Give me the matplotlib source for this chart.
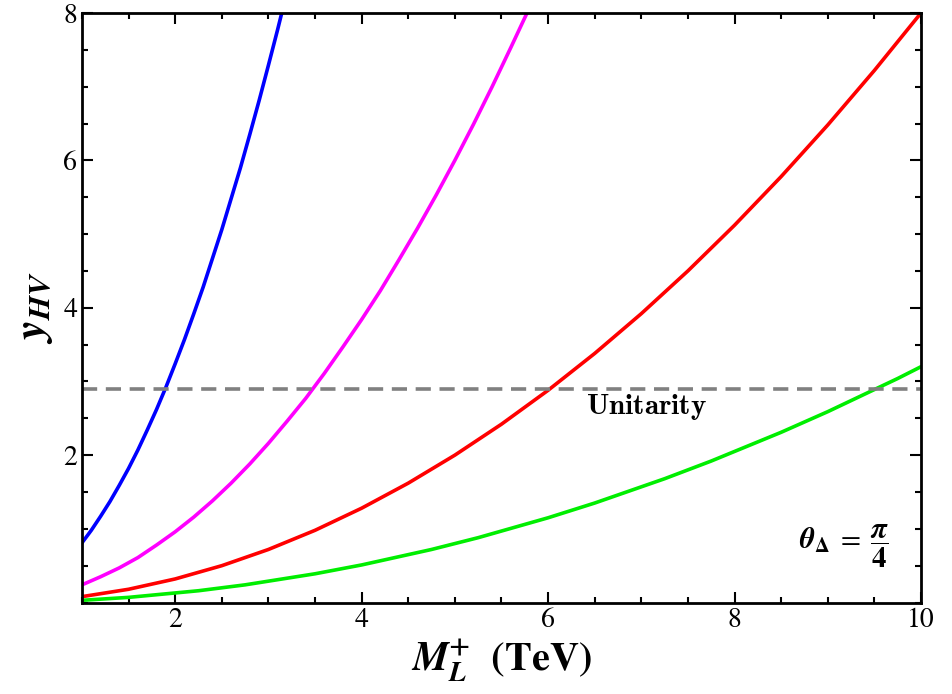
"""Yukawa y_HV vs charged lepton mass, unitarity bound."""

import matplotlib

matplotlib.use("Agg")

import matplotlib.pyplot as plt
from matplotlib.ticker import MultipleLocator

# values
blue_x = [1.0, 1.1, 1.2, 1.3, 1.4, 1.5, 1.6, 1.7, 1.8, 1.9, 2.0, 2.1, 2.2,
          2.3, 2.4, 2.5, 2.6, 2.7, 2.8, 2.9, 3.0, 3.1, 3.2]
blue_y = [0.81, 0.98, 1.17, 1.37, 1.59, 1.82, 2.07, 2.34, 2.62, 2.92, 3.24,
          3.57, 3.92, 4.28, 4.67, 5.06, 5.48, 5.90, 6.35, 6.81, 7.29, 7.78, 8.29]

magenta_x = [1.0, 1.2, 1.4, 1.6, 1.8, 2.0, 2.2, 2.4, 2.6, 2.8, 3.0, 3.2, 3.4,
             3.6, 3.8, 4.0, 4.2, 4.4, 4.6, 4.8, 5.0, 5.2, 5.4, 5.6, 5.8, 6.0]
magenta_y = [0.24, 0.35, 0.47, 0.61, 0.78, 0.96, 1.16, 1.38, 1.62, 1.88, 2.16,
             2.46, 2.77, 3.11, 3.47, 3.84, 4.23, 4.65, 5.08, 5.53, 6.00, 6.49,
             7.00, 7.53, 8.07, 8.64]

red_x = [1.0, 1.25, 1.5, 1.75, 2.0, 2.25, 2.5, 2.75, 3.0, 3.25, 3.5, 3.75,
         4.0, 4.25, 4.5, 4.75, 5.0, 5.25, 5.5, 5.75, 6.0, 6.25, 6.5, 6.75,
         7.0, 7.25, 7.5, 7.75, 8.0, 8.25, 8.5, 8.75, 9.0, 9.25, 9.5, 9.75, 10.0]
red_y = [0.08, 0.13, 0.18, 0.25, 0.32, 0.41, 0.50, 0.61, 0.72, 0.85, 0.98,
         1.13, 1.28, 1.45, 1.62, 1.81, 2.00, 2.21, 2.42, 2.65, 2.88, 3.13,
         3.38, 3.65, 3.92, 4.21, 4.50, 4.81, 5.12, 5.45, 5.78, 6.13, 6.48,
         6.85, 7.22, 7.61, 8.00]

green_x = red_x
green_y = [0.03, 0.05, 0.07, 0.10, 0.13, 0.16, 0.20, 0.24, 0.29, 0.34, 0.39,
           0.45, 0.51, 0.58, 0.65, 0.72, 0.80, 0.88, 0.97, 1.06, 1.15, 1.25,
           1.35, 1.46, 1.57, 1.68, 1.80, 1.92, 2.05, 2.18, 2.31, 2.45, 2.59,
           2.74, 2.89, 3.04, 3.20]

unitarity_y = 2.9

plt.rcParams["mathtext.fontset"] = "stix"
plt.rcParams["font.family"] = ["STIXGeneral", "DejaVu Serif"]

fig = plt.figure(figsize=(9.53, 6.94), dpi=100)
ax = fig.add_axes([0.086, 0.1318, 0.8804, 0.8495])

lw = 2.6
for xs, ys, col in [(blue_x, blue_y, "#0000ff"), (magenta_x, magenta_y, "#ff00ff"),
                    (red_x, red_y, "#ff0000"), (green_x, green_y, "#00ee00")]:
    ax.plot(xs, ys, color=col, lw=lw, solid_joinstyle="round", solid_capstyle="round")
ax.axhline(unitarity_y, color="#808080", lw=2.6, linestyle=(0, (4.2, 2.4)))

ax.text(7.05, 2.66, r"$\mathbf{Unitarity}$", fontsize=21, math_fontfamily="cm",
        ha="center", va="center")
ax.text(9.65, 0.76,
        r"$\boldsymbol{\theta}_{\mathbf{\Delta}}\;=\;\dfrac{\boldsymbol{\pi}}{\mathbf{4}}$",
        fontsize=21, ha="right", va="center")

ax.set_xlim(1, 10)
ax.set_ylim(0, 8)
ax.set_xticks([2, 4, 6, 8, 10])
ax.set_yticks([2, 4, 6, 8])
ax.xaxis.set_minor_locator(MultipleLocator(0.5))
ax.yaxis.set_minor_locator(MultipleLocator(0.5))
ax.tick_params(which="both", direction="in", top=True, right=True,
               labelsize=20, width=1.5)
ax.tick_params(which="major", length=8)
ax.tick_params(which="minor", length=4)
for sp in ax.spines.values():
    sp.set_linewidth(2)

ax.set_xlabel(r"$\boldsymbol{M}_{\boldsymbol{L}}^{\mathbf{+}}\ \ \mathbf{(TeV)}$",
              fontsize=29, labelpad=4)
ax.set_ylabel(r"$\boldsymbol{y}_{\boldsymbol{HV}}$", fontsize=32, labelpad=6)

fig.savefig("out.png", dpi=100)
